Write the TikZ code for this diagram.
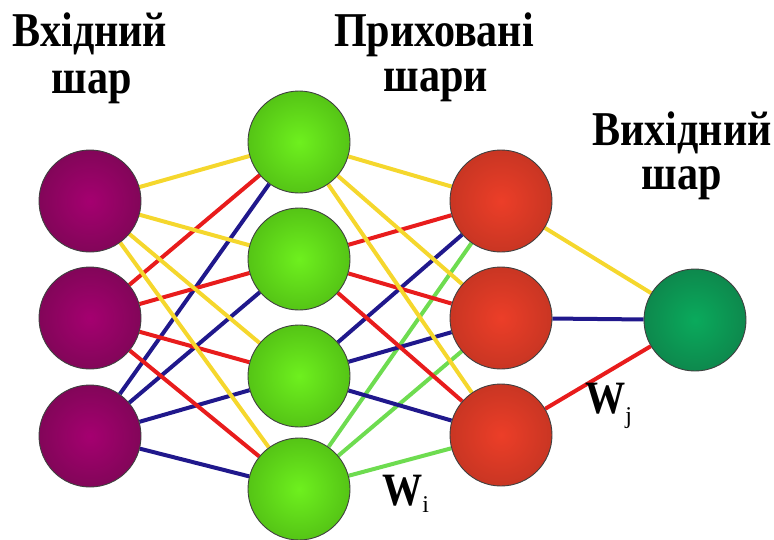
\documentclass[tikz,border=0pt]{standalone}
\usepackage{fontspec}
\usepackage{graphicx}
\setmainfont{Liberation Serif}
\usetikzlibrary{backgrounds}

% sphere colours
\definecolor{pcore}{RGB}{165,0,112}
\definecolor{pmid}{RGB}{126,6,86}
\definecolor{pedge}{RGB}{64,12,46}
\definecolor{gcore}{RGB}{110,240,30}
\definecolor{gmid}{RGB}{80,188,20}
\definecolor{gedge}{RGB}{38,104,12}
\definecolor{rcore}{RGB}{236,62,40}
\definecolor{rmid}{RGB}{194,52,34}
\definecolor{redge}{RGB}{104,34,22}
\definecolor{tcore}{RGB}{10,170,92}
\definecolor{tmid}{RGB}{14,130,74}
\definecolor{tedge}{RGB}{10,74,48}

% connector colours
\definecolor{cyellow}{RGB}{245,215,45}
\definecolor{cred}{RGB}{232,28,28}
\definecolor{cblue}{RGB}{32,24,140}
\definecolor{cgreen}{RGB}{110,220,80}

\pgfdeclareradialshading{ballpurple}{\pgfpoint{0bp}{0bp}}{color(0bp)=(pcore); color(28bp)=(pmid); color(50bp)=(pedge)}
\pgfdeclareradialshading{ballgreen}{\pgfpoint{0bp}{0bp}}{color(0bp)=(gcore); color(30bp)=(gmid); color(50bp)=(gedge)}
\pgfdeclareradialshading{ballred}{\pgfpoint{0bp}{0bp}}{color(0bp)=(rcore); color(30bp)=(rmid); color(50bp)=(redge)}
\pgfdeclareradialshading{ballteal}{\pgfpoint{0bp}{0bp}}{color(0bp)=(tcore); color(30bp)=(tmid); color(50bp)=(tedge)}

% tall bold heading text
\newcommand{\tallword}[1]{\scalebox{0.98}[1.13]{#1}}
% weight index set below the baseline
\newcommand{\wsub}[2]{\raisebox{#1}{\fontsize{24}{24}\selectfont\mdseries #2}}

\tikzset{
  neuron/.style={circle, minimum size=102pt, inner sep=0pt, draw=black!75, line width=0.9pt, shade},
  inball/.style={neuron, shading=ballpurple},
  hidball/.style={neuron, shading=ballgreen},
  hid2ball/.style={neuron, shading=ballred},
  outball/.style={neuron, shading=ballteal},
  title/.style={font=\fontsize{43}{47}\selectfont\bfseries, anchor=base, inner sep=0pt},
  weight/.style={font=\fontsize{41}{41}\selectfont\bfseries, anchor=base west, inner sep=0pt},
  link/.style={line width=4pt}
}

\begin{document}
\begin{tikzpicture}[x=1pt,y=-1pt]
\useasboundingbox (0,0) rectangle (774,539);

% layer titles
\node[title] (t1a) at (90,46) {\tallword{Вхідний}};
\node[title] (t1b) at (92,93) {\tallword{шар}};
\node[title] (t2a) at (434,46) {\tallword{Приховані}};
\node[title] (t2b) at (436,91) {\tallword{шари}};
\node[title] (t3a) at (682,145) {\tallword{Вихідний}};
\node[title] (t3b) at (682,189) {\tallword{шар}};

% neurons
\node[inball] (I1) at (90,201) {};
\node[inball] (I2) at (90,318) {};
\node[inball] (I3) at (90,436) {};
\node[hidball] (H1) at (299,142) {};
\node[hidball] (H2) at (299,259) {};
\node[hidball] (H3) at (299,376) {};
\node[hidball] (H4) at (299,489) {};
\node[hid2ball] (R1) at (501,201) {};
\node[hid2ball] (R2) at (501,318) {};
\node[hid2ball] (R3) at (501,435) {};
\node[outball] (O) at (695,320) {};

% weighted connections
\begin{scope}[on background layer]
\foreach \h in {1,...,4} {
  \draw[link, cyellow] (I1) -- (H\h);
  \draw[link, cred] (I2) -- (H\h);
  \draw[link, cblue] (I3) -- (H\h);
}
\foreach \r in {1,2,3} {
  \draw[link, cyellow] (H1) -- (R\r);
  \draw[link, cred] (H2) -- (R\r);
  \draw[link, cblue] (H3) -- (R\r);
  \draw[link, cgreen] (H4) -- (R\r);
}
\draw[link, cyellow] (R1) -- (O);
\draw[link, cblue] (R2) -- (O);
\draw[link, cred] (R3) -- (O);
\end{scope}

% weight labels
\node[weight] (wi) at (382,505) {\tallword{W}\wsub{-7pt}{i}};
\node[weight] (wj) at (585,413) {\tallword{W}\wsub{-10pt}{j}};
\end{tikzpicture}
\end{document}
